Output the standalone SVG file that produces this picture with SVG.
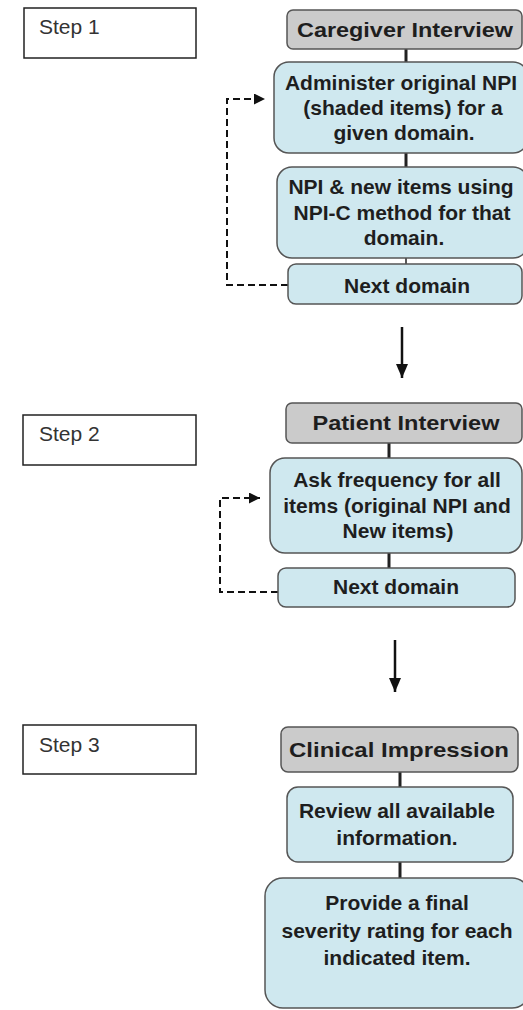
<svg xmlns="http://www.w3.org/2000/svg" width="523" height="1010" viewBox="0 0 523 1010">
<defs>
<style>
.step{fill:#fff;stroke:#222;stroke-width:1.5}
.steptxt{font-family:"Liberation Sans",Arial,sans-serif;font-size:21px;fill:#333}
.hdr{fill:#cbcbcb;stroke:#555;stroke-width:1.5}
.box{fill:#cfe8ef;stroke:#555;stroke-width:1.5}
.t{font-family:"Liberation Sans",Arial,sans-serif;font-size:21px;font-weight:bold;fill:#1e1e1e;text-anchor:middle}
.link{stroke:#222;stroke-width:3;fill:none}
.dash{stroke:#111;stroke-width:2;fill:none;stroke-dasharray:7,4}
.arrow{stroke:#111;stroke-width:2.5;fill:none}
</style>
<marker id="ah" viewBox="0 0 10 10" refX="10" refY="5" markerWidth="11" markerHeight="11" markerUnits="userSpaceOnUse" orient="auto">
<path d="M0,0 L10,5 L0,10 z" fill="#111"/>
</marker>
<marker id="ah2" viewBox="0 0 12 14" refX="6" refY="14" markerWidth="12" markerHeight="14" markerUnits="userSpaceOnUse" orient="0">
<path d="M0,0 L12,0 L6,14 z" fill="#111"/>
</marker>
</defs>

<g id="connectors">
<line class="link" x1="406" y1="49" x2="406" y2="62"/>
<line class="link" x1="406" y1="153" x2="406" y2="167"/>
<line class="link" x1="406" y1="258" x2="406" y2="264" style="stroke-width:1.5"/>
<polyline class="dash" points="288,285 227,285 227,99 265,99" marker-end="url(#ah)"/>
<line class="arrow" x1="402" y1="327" x2="402" y2="378" marker-end="url(#ah2)"/>
<line class="link" x1="389" y1="443" x2="389" y2="458"/>
<line class="link" x1="389" y1="553" x2="389" y2="568"/>
<polyline class="dash" points="278,592 220,592 220,498 260,498" marker-end="url(#ah)"/>
<line class="arrow" x1="395" y1="640" x2="395" y2="692" marker-end="url(#ah2)"/>
<line class="link" x1="400" y1="772" x2="400" y2="787"/>
<line class="link" x1="400" y1="862" x2="400" y2="878"/>
</g>

<g id="step1">
<rect class="step" x="24" y="8" width="172" height="50"/>
<text class="steptxt" x="39" y="34">Step 1</text>
</g>
<g id="caregiver">
<rect class="hdr" x="287" y="10" width="235" height="39" rx="6"/>
<text class="t" x="405" y="37" textLength="216" lengthAdjust="spacingAndGlyphs">Caregiver Interview</text>
</g>
<g id="administer">
<rect class="box" x="274" y="62" width="254" height="91" rx="15"/>
<text class="t" x="401" y="90">Administer original NPI</text>
<text class="t" x="403" y="115">(shaded items) for a</text>
<text class="t" x="404" y="140">given domain.</text>
</g>
<g id="npic">
<rect class="box" x="277" y="167" width="251" height="91" rx="15"/>
<text class="t" x="401" y="194">NPI &amp; new items using</text>
<text class="t" x="402" y="220">NPI-C method for that</text>
<text class="t" x="404" y="245">domain.</text>
</g>
<g id="next1">
<rect class="box" x="288" y="264" width="234" height="40" rx="8"/>
<text class="t" x="407" y="293">Next domain</text>
</g>

<g id="step2">
<rect class="step" x="23" y="415" width="173" height="50"/>
<text class="steptxt" x="39" y="441">Step 2</text>
</g>
<g id="patient">
<rect class="hdr" x="286" y="403" width="236" height="40" rx="6"/>
<text class="t" x="406" y="430" textLength="187" lengthAdjust="spacingAndGlyphs">Patient Interview</text>
</g>
<g id="ask">
<rect class="box" x="270" y="458" width="252" height="95" rx="15"/>
<text class="t" x="397" y="487">Ask frequency for all</text>
<text class="t" x="397" y="513">items (original NPI and</text>
<text class="t" x="398" y="538">New items)</text>
</g>
<g id="next2">
<rect class="box" x="278" y="568" width="237" height="39" rx="8"/>
<text class="t" x="396" y="594">Next domain</text>
</g>

<g id="step3">
<rect class="step" x="23" y="725" width="173" height="49"/>
<text class="steptxt" x="39" y="752">Step 3</text>
</g>
<g id="clinical">
<rect class="hdr" x="281" y="727" width="237" height="45" rx="7"/>
<text class="t" x="399" y="757" textLength="220" lengthAdjust="spacingAndGlyphs">Clinical Impression</text>
</g>
<g id="review">
<rect class="box" x="287" y="787" width="226" height="75" rx="11"/>
<text class="t" x="397" y="818">Review all available</text>
<text class="t" x="397" y="845">information.</text>
</g>
<g id="provide">
<rect class="box" x="265" y="878" width="265" height="130" rx="18"/>
<text class="t" x="397" y="910">Provide a final</text>
<text class="t" x="397" y="938">severity rating for each</text>
<text class="t" x="397" y="965">indicated item.</text>
</g>
</svg>
